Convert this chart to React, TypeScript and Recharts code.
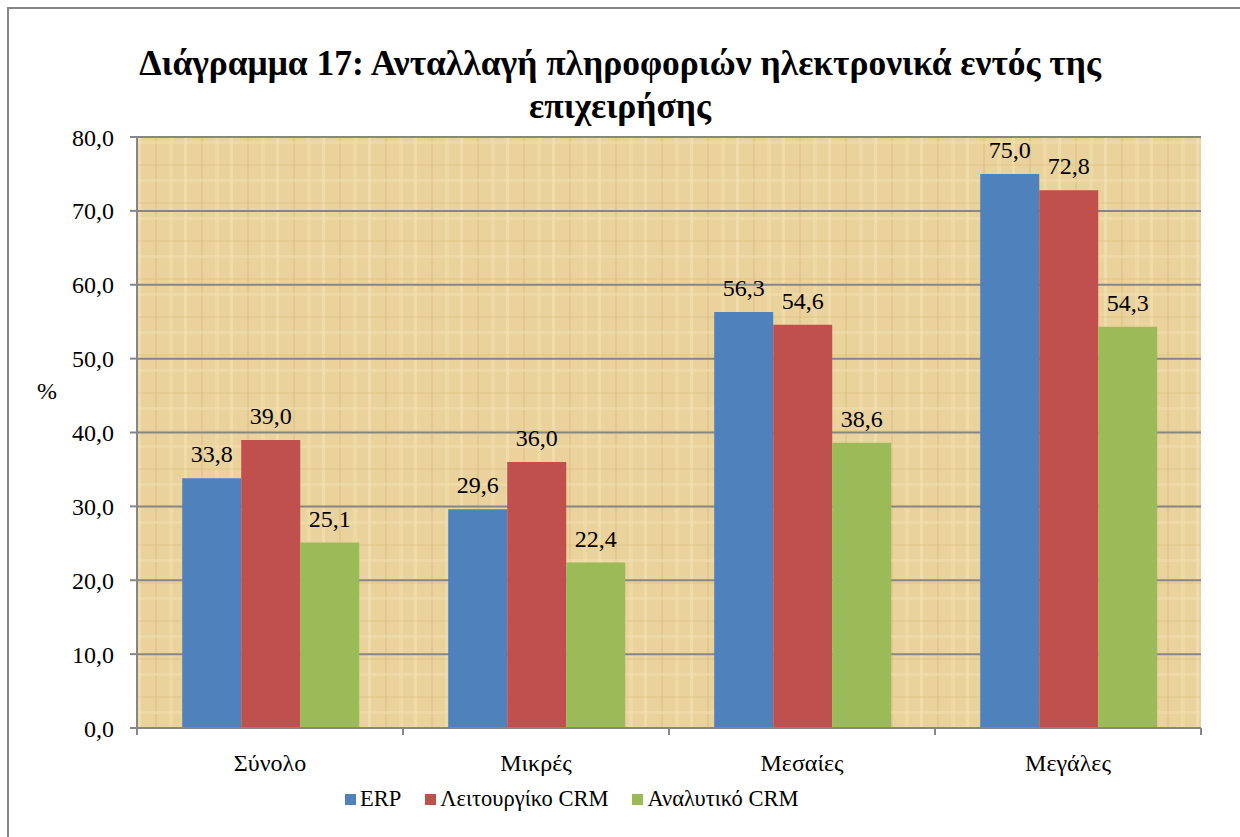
import { BarChart, Bar, XAxis, YAxis, CartesianGrid, LabelList } from "recharts";

const categories = ["Σύνολο", "Μικρές", "Μεσαίες", "Μεγάλες"];
const erp = [33.8, 29.6, 56.3, 75.0];
const operationalCrm = [39.0, 36.0, 54.6, 72.8];
const analyticalCrm = [25.1, 22.4, 38.6, 54.3];
const yTicks = [0, 10, 20, 30, 40, 50, 60, 70, 80];

const seriesNames = ["ERP", "Λειτουργίκο CRM", "Αναλυτικό CRM"];
const COLORS = ["#4F81BD", "#C0504D", "#9BBB59"];

const FONT = "'Liberation Serif', 'Times New Roman', serif";
const AXIS = "#868686";

const W = 1240;
const H = 837;
const PLOT_LEFT = 137;
const PLOT_RIGHT = 1201;
const PLOT_TOP = 137;
const PLOT_BOTTOM = 728;
const BAND = (PLOT_RIGHT - PLOT_LEFT) / categories.length;

const data = categories.map((c, i) => ({
  name: c,
  erp: erp[i],
  op: operationalCrm[i],
  an: analyticalCrm[i],
}));

const fmt = (v: number) => v.toFixed(1).replace(".", ",");

function CategoryTick(props: any) {
  const { x, y, payload, index } = props;
  return (
    <g>
      <line x1={x - BAND / 2} y1={y} x2={x - BAND / 2} y2={y + 7} stroke={AXIS} strokeWidth={2} />
      {index === categories.length - 1 && (
        <line x1={x + BAND / 2} y1={y} x2={x + BAND / 2} y2={y + 7} stroke={AXIS} strokeWidth={2} />
      )}
      <text x={x} y={y + 43} textAnchor="middle" fill="#000" fontSize={24} fontFamily={FONT}>
        {payload.value}
      </text>
    </g>
  );
}

export default function App() {
  const keys = ["erp", "op", "an"];
  return (
    <div style={{ position: "absolute", left: 0, top: 0, width: W, height: H, background: "#fff" }}>
      {/* frame */}
      <div
        style={{
          position: "absolute",
          left: 7,
          top: 7,
          width: W,
          height: H,
          borderLeft: `2px solid ${AXIS}`,
          borderTop: `2px solid ${AXIS}`,
        }}
      />
      <div
        style={{
          position: "absolute",
          left: 0,
          top: 42,
          width: W,
          textAlign: "center",
          fontFamily: FONT,
          fontWeight: "bold",
          fontSize: 35.5,
          lineHeight: "43px",
          color: "#000",
        }}
      >
        Διάγραμμα 17: Ανταλλαγή πληροφοριών ηλεκτρονικά εντός της
        <br />
        επιχειρήσης
      </div>
      <div
        style={{
          position: "absolute",
          left: 37,
          top: 378,
          fontFamily: FONT,
          fontSize: 24,
          color: "#000",
        }}
      >
        %
      </div>

      <div style={{ position: "absolute", left: 0, top: 0 }}>
        <BarChart
          width={W}
          height={H}
          data={data}
          margin={{ top: PLOT_TOP, right: W - PLOT_RIGHT, left: 37, bottom: H - PLOT_BOTTOM - 50 }}
          barCategoryGap="17%"
          barGap={0}
        >
          <defs>
            <pattern id="paper" width="46" height="38" patternUnits="userSpaceOnUse">
              <rect width="46" height="38" fill="#EAD29C" />
              <rect x="0" y="0" width="3" height="38" fill="#F3E2B6" opacity="0.6" />
              <rect x="17" y="0" width="2" height="38" fill="#D9BD7F" opacity="0.45" />
              <rect x="31" y="0" width="4" height="38" fill="#F1DDAC" opacity="0.5" />
              <rect x="0" y="12" width="46" height="2" fill="#D9BD7F" opacity="0.35" />
              <rect x="0" y="27" width="46" height="3" fill="#F2E0B2" opacity="0.45" />
            </pattern>
          </defs>
          <CartesianGrid
            vertical={false}
            stroke={AXIS}
            strokeWidth={2}
            fill="url(#paper)"
            fillOpacity={1}
          />
          <XAxis
            dataKey="name"
            axisLine={{ stroke: AXIS, strokeWidth: 2 }}
            tickLine={false}
            tickSize={0}
            tickMargin={0}
            height={50}
            tick={<CategoryTick />}
            interval={0}
          />
          <YAxis
            domain={[0, 80]}
            ticks={yTicks}
            width={100}
            axisLine={{ stroke: AXIS, strokeWidth: 2 }}
            tickLine={{ stroke: AXIS, strokeWidth: 2 }}
            tickSize={7}
            tickMargin={16}
            tickFormatter={fmt}
            tick={{ fill: "#000", fontSize: 24, fontFamily: FONT }}
            interval={0}
          />
          {keys.map((k, i) => (
            <Bar key={k} dataKey={k} name={seriesNames[i]} fill={COLORS[i]} isAnimationActive={false}>
              <LabelList
                dataKey={k}
                position="top"
                offset={16}
                formatter={(v: any) => fmt(Number(v))}
                style={{ fill: "#000", fontSize: 24, fontFamily: FONT }}
              />
            </Bar>
          ))}
        </BarChart>
      </div>

      {/* legend */}
      <div
        style={{
          position: "absolute",
          left: 345,
          top: 786,
          display: "flex",
          gap: 24,
          fontFamily: FONT,
          fontSize: 22.5,
          color: "#000",
        }}
      >
        {seriesNames.map((n, i) => (
          <div key={n} style={{ display: "flex", alignItems: "center", gap: 4 }}>
            <span style={{ display: "inline-block", width: 11, height: 11, background: COLORS[i] }} />
            <span>{n}</span>
          </div>
        ))}
      </div>
    </div>
  );
}
